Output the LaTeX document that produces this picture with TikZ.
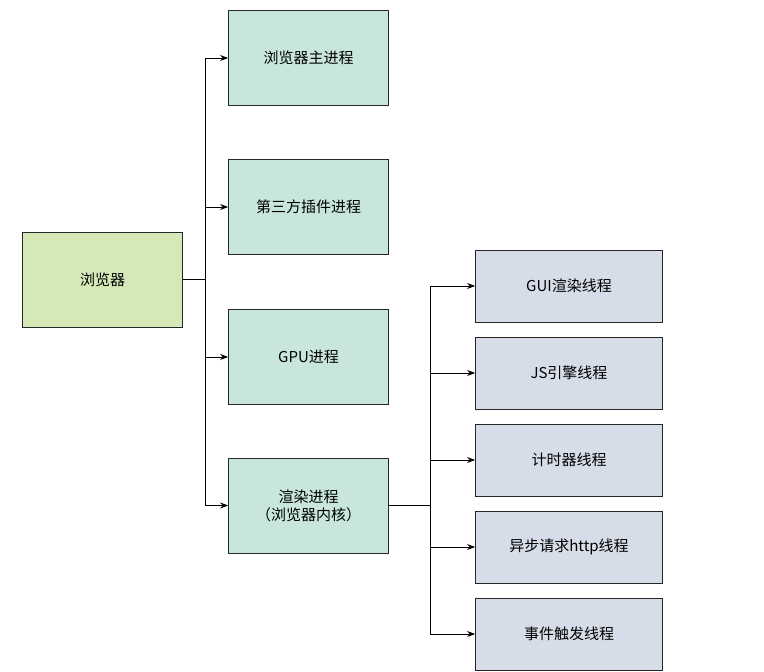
\documentclass[tikz,border=0pt]{standalone}
\usepackage{fontspec}
\newfontfamily\cjk{Noto Sans CJK SC}
\usetikzlibrary{arrows.meta}
\definecolor{gbox}{HTML}{D5E8B8}
\definecolor{tbox}{HTML}{C8E6DD}
\definecolor{bbox}{HTML}{D6DDE9}
\begin{document}
\begin{tikzpicture}[x=1pt,y=-1pt,
  box/.style={draw=black!85,line width=0.8pt,minimum width=160pt,minimum height=95pt,font=\cjk\fontsize{15}{18}\selectfont,align=center},
  proc/.style={box,fill=tbox},
  thr/.style={box,fill=bbox,minimum width=187pt,minimum height=72pt},
  arr/.style={-{Stealth[length=8pt,width=6pt]},line width=0.9pt},
  ln/.style={line width=0.9pt}]
\useasboundingbox (0,0) rectangle (764,672);
\node[box,fill=gbox] (b) at (102.5,279.5) {浏览器};
\node[proc] (p1) at (308.5,58) {浏览器主进程};
\node[proc] (p2) at (308.5,207) {第三方插件进程};
\node[proc] (p3) at (308.5,357) {GPU进程};
\node[proc] (p4) at (308.5,505.5) {渲染进程\\（浏览器内核）};
\node[thr] (t1) at (569,286) {GUI渲染线程};
\node[thr] (t2) at (569,373) {JS引擎线程};
\node[thr] (t3) at (569,460) {计时器线程};
\node[thr] (t4) at (569,547) {异步请求http线程};
\node[thr] (t5) at (569,634) {事件触发线程};
\coordinate (j1) at (205,279.5);
\coordinate (j2) at (430,505.5);
\draw[ln] (b.east) -- (j1);
\draw[ln] (j1 |- p1) -- (j1 |- p4);
\foreach \p in {p1,p2,p3,p4} \draw[arr] (j1 |- \p) -- (\p.west);
\draw[ln] (p4.east) -- (j2);
\draw[ln] (j2 |- t1) -- (j2 |- t5);
\foreach \t in {t1,t2,t3,t4,t5} \draw[arr] (j2 |- \t) -- (\t.west);
\end{tikzpicture}
\end{document}
